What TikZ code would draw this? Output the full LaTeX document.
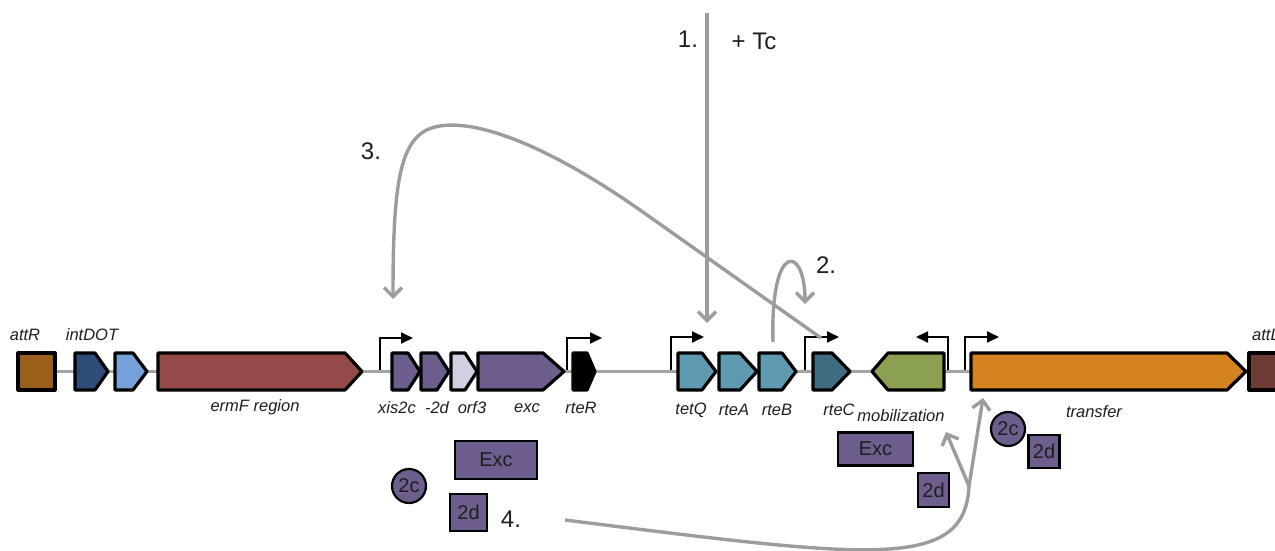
\documentclass[tikz,border=0pt]{standalone}
\usepackage{fontspec}
\setmainfont{Liberation Sans}
\usetikzlibrary{arrows.meta}
\definecolor{bbgray}{HTML}{A3A3A3}
\definecolor{flowgray}{HTML}{9C9C9C}
\definecolor{labc}{HTML}{1E1E1E}
\definecolor{cattR}{HTML}{9B5F1C}
\definecolor{cint}{HTML}{2F4B77}
\definecolor{cint2}{HTML}{76A1DA}
\definecolor{cerm}{HTML}{944B47}
\definecolor{cpur}{HTML}{6D5E8E}
\definecolor{corf}{HTML}{D3CFE3}
\definecolor{cteal}{HTML}{5E9AB0}
\definecolor{crtec}{HTML}{406C80}
\definecolor{cmob}{HTML}{8CA052}
\definecolor{ctra}{HTML}{D58220}
\definecolor{cattL}{HTML}{6E3B35}
\tikzset{
  gene/.style={draw=black, line width=3.2pt, line join=round},
  backbone/.style={draw=bbgray, line width=3pt},
  prom/.style={draw=black, line width=1.8pt, -{Triangle[length=12pt,width=11pt]}},
  flow/.style={draw=flowgray, line width=3.4pt, -{Straight Barb[length=9pt,width=18pt]}},
  flowline/.style={draw=flowgray, line width=3.4pt},
  glabel/.style={font=\fontsize{16.5}{19}\selectfont\itshape, text=labc, inner sep=0pt},
  numlabel/.style={font=\fontsize{24}{27}\selectfont, text=labc, inner sep=0pt},
  protbox/.style={draw=black, line width=2.2pt, fill=cpur, text=labc, inner sep=0pt, font=\fontsize{20}{22}\selectfont},
  protsmall/.style={draw=black, line width=2.2pt, fill=cpur, text=labc, inner sep=0pt, font=\fontsize{20}{22}\selectfont},
}
\newcommand\geneR[5]{\draw[gene,fill=#5] (#2,353) -- (#3,353) -- (#4,371.5) -- (#3,390) -- (#2,390) -- cycle;
  \coordinate (#1) at ({(#2+#4)/2},353);}
\begin{document}
\begin{tikzpicture}[x=1pt,y=-1pt]
\useasboundingbox (0,0) rectangle (1275,551);
% backbone
\draw[backbone] (55,371) -- (1250,371);
% boxes at ends
\draw[gene,fill=cattR] (18,353) rectangle (55,390);
\draw[gene,fill=cattL] (1249,353) rectangle (1290,390);
% genes
\geneR{intA}{75}{95}{108}{cint}
\geneR{intB}{115}{133}{147}{cint2}
\geneR{ermF}{158}{345}{362}{cerm}
\geneR{xis}{392}{408}{420}{cpur}
\geneR{twod}{421}{437}{449}{cpur}
\geneR{orf}{451}{465}{477}{corf}
\geneR{exc}{478}{543}{564}{cpur}
\geneR{rteR}{573}{587}{595}{black}
\geneR{tetQ}{678}{702}{716}{cteal}
\geneR{rteA}{719}{740}{757}{cteal}
\geneR{rteB}{759}{782}{796}{cteal}
\geneR{rteC}{813}{832}{850}{crtec}
\draw[gene,fill=cmob] (944,353) -- (888,353) -- (872,371.5) -- (888,390) -- (944,390) -- cycle;
\coordinate (mob) at (908,353);
\geneR{tra}{971}{1227}{1246}{ctra}
% promoters
\coordinate (p1) at (380,370);
\coordinate (p1e) at (413,338);
\draw[prom] (p1) |- (p1e);
\coordinate (p2) at (567,370);
\coordinate (p2e) at (602,338);
\draw[prom] (p2) |- (p2e);
\coordinate (p3) at (671,370);
\coordinate (p3e) at (704,337);
\draw[prom] (p3) |- (p3e);
\coordinate (p4) at (805,370);
\coordinate (p4e) at (839,337);
\draw[prom] (p4) |- (p4e);
\coordinate (p5) at (948,370);
\coordinate (p5e) at (916,337);
\draw[prom] (p5) |- (p5e);
\coordinate (p6) at (965,370);
\coordinate (p6e) at (999,337);
\draw[prom] (p6) |- (p6e);
% labels
\node[glabel] (lattR) at (25,335) {attR};
\node[glabel] (lint) at (92,335) {intDOT};
\node[glabel,anchor=west] (lattL) at (1252,335) {attL};
\node[glabel] (lerm) at (255,407) {ermF region};
\node[glabel] (lxis) at (397,408) {xis2c};
\node[glabel] (l2d) at (437,408) {-2d};
\node[glabel] (lorf) at (472,408) {orf3};
\node[glabel] (lexc) at (527,408) {exc};
\node[glabel] (lrteR) at (581,408) {rteR};
\node[glabel] (ltetQ) at (691,410) {tetQ};
\node[glabel] (lrteA) at (734,410) {rteA};
\node[glabel] (lrteB) at (777,410) {rteB};
\node[glabel] (lrteC) at (839,410) {rteC};
\node[glabel] (lmob) at (901,416) {mobilization};
\node[glabel] (ltra) at (1094,412) {transfer};
% proteins
\node[protbox, minimum width=82pt, minimum height=38pt] (excL) at (496,460) {Exc};
\node[protsmall, circle, minimum size=34pt] (c2L) at (409,486) {2c};
\node[protsmall, minimum width=37pt, minimum height=37pt] (d2L) at (468.5,512.5) {2d};
\node[protbox, minimum width=75pt, minimum height=33pt] (excR) at (875.5,449) {Exc};
\node[protsmall, minimum width=31pt, minimum height=34pt] (d2R) at (933.5,490) {2d};
\node[protsmall, circle, minimum size=34pt] (c2R) at (1008,429) {2c};
\node[protsmall, minimum width=31pt, minimum height=33pt] (d2R2) at (1044,451.5) {2d};
% step labels
\node[numlabel] (n1) at (688,39) {1.};
\node[numlabel] (tc) at (754,41) {+ Tc};
\node[numlabel] (n3) at (371,151) {3.};
\node[numlabel] (n2) at (826,265) {2.};
\node[numlabel] (n4) at (511,519) {4.};
% flow arrows
\coordinate (a1s) at (707,13);
\coordinate (a1e) at (707,323);
\draw[flow] (a1s) -- (a1e);
\coordinate (a2s) at (773,342);
\coordinate (a2e) at (805,304);
\draw[flow] (a2s) .. controls (770,240) and (805,245) .. (a2e);
\coordinate (a3s) at (821,338);
\coordinate (a3e) at (393,299);
\draw[flow] (a3s) -- (640,210) .. controls (540,140) and (470,118) .. (435,127) .. controls (400,136) and (393,180) .. (a3e);
\coordinate (a4s) at (565,520);
\coordinate (a4j) at (969,486);
\coordinate (a4t) at (983,398);
\coordinate (a4m) at (946,432);
\draw[flowline] (a4s) .. controls (870,558) and (965,572) .. (a4j);
\draw[flow] (a4j) -- (a4t);
\draw[flow] (a4j) -- (a4m);
\end{tikzpicture}
\end{document}
